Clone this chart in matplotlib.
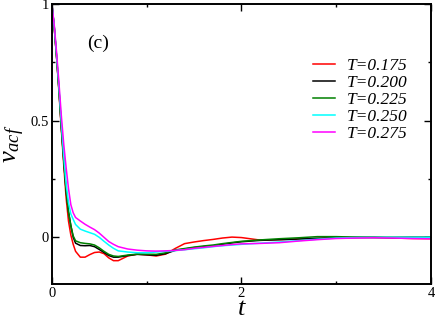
import numpy as np
import matplotlib
matplotlib.use('Agg')
import matplotlib.pyplot as plt
from matplotlib.ticker import MultipleLocator

plt.rcParams['font.family'] = 'Liberation Serif'
plt.rcParams['mathtext.fontset'] = 'custom'
plt.rcParams['mathtext.it'] = 'Liberation Serif:italic'
plt.rcParams['mathtext.rm'] = 'Liberation Serif'

# velocity autocorrelation
t = [0, 0.025, 0.05, 0.075, 0.1, 0.125, 0.15, 0.175, 0.2, 0.225, 0.25, 0.3, 0.35, 0.4, 0.45,
     0.5, 0.55, 0.6, 0.65, 0.7, 0.8, 0.9, 1.0, 1.1, 1.2, 1.3, 1.4, 1.5, 1.6, 1.7, 1.8, 1.9,
     2.0, 2.2, 2.4, 2.6, 2.8, 3.0, 3.2, 3.4, 3.6, 3.8, 4.0]

vacf_175 = [1, 0.9, 0.77, 0.62, 0.46, 0.31, 0.17, 0.07, 0.01, -0.03, -0.06, -0.085, -0.085, -0.074, -0.065,
            -0.063, -0.07, -0.088, -0.1, -0.1, -0.08, -0.072, -0.075, -0.08, -0.072, -0.048, -0.027, -0.02, -0.014, -0.009, -0.003, 0.001,
            -0.001, -0.012, -0.01, -0.008, -0.005, -0.002, -0.002, 0.0, -0.003, -0.005, -0.006]
vacf_200 = [1, 0.9, 0.77, 0.63, 0.47, 0.33, 0.2, 0.11, 0.05, 0.0, -0.025, -0.035, -0.036, -0.035, -0.04,
            -0.052, -0.065, -0.078, -0.085, -0.085, -0.078, -0.073, -0.075, -0.077, -0.07, -0.056, -0.05, -0.044, -0.04, -0.037, -0.03, -0.024,
            -0.019, -0.013, -0.01, -0.007, -0.004, -0.002, 0.0, 0.0, -0.001, 0.0, 0.0]
vacf_225 = [1, 0.9, 0.77, 0.63, 0.47, 0.33, 0.2, 0.11, 0.05, 0.006, -0.015, -0.023, -0.026, -0.028, -0.033,
            -0.045, -0.06, -0.073, -0.08, -0.082, -0.076, -0.072, -0.072, -0.073, -0.066, -0.054, -0.048, -0.042, -0.037, -0.033, -0.027, -0.022,
            -0.017, -0.011, -0.006, -0.002, 0.003, 0.003, 0.001, -0.001, 0.0, 0.0, 0.0]
vacf_250 = [1, 0.905, 0.78, 0.64, 0.49, 0.35, 0.23, 0.15, 0.10, 0.077, 0.055, 0.035, 0.027, 0.02, 0.013,
            0.0, -0.017, -0.033, -0.047, -0.058, -0.063, -0.066, -0.066, -0.063, -0.06, -0.057, -0.053, -0.049, -0.045, -0.04, -0.036, -0.033,
            -0.03, -0.025, -0.02, -0.014, -0.008, -0.003, -0.001, 0.0, 0.0, 0.0, 0.0]
vacf_275 = [1, 0.91, 0.79, 0.66, 0.52, 0.40, 0.30, 0.21, 0.14, 0.105, 0.085, 0.07, 0.056, 0.044, 0.033,
            0.018, 0.0, -0.018, -0.03, -0.04, -0.05, -0.055, -0.058, -0.059, -0.058, -0.056, -0.053, -0.047, -0.043, -0.039, -0.035, -0.031,
            -0.028, -0.026, -0.023, -0.016, -0.01, -0.005, -0.003, -0.002, -0.003, -0.005, -0.006]

series = [vacf_175, vacf_200, vacf_225, vacf_250, vacf_275]
labels = ['T=0.175', 'T=0.200', 'T=0.225', 'T=0.250', 'T=0.275']
colors = ['red', 'black', 'green', 'cyan', 'magenta']

fig = plt.figure(figsize=(4.36, 3.2), dpi=100)
ax = fig.add_axes([0.119, 0.1125, 0.8695, 0.875])

for y, lab, c in zip(series, labels, colors):
    ax.plot(t, y, color=c, lw=1.1, label=lab)

ax.set_xlim(0, 4)
ax.set_ylim(-0.2, 1)
ax.xaxis.set_minor_locator(MultipleLocator(1))
ax.yaxis.set_minor_locator(MultipleLocator(0.25))
ax.set_xticks([0, 2, 4])
ax.set_xticklabels(['0', '2', '4'])
ax.set_yticks([0, 0.5, 1])
ax.set_yticklabels(['0', '0.5', '1'])
ax.tick_params(which='both', direction='in', top=True, right=True, labelsize=10.5, width=1.0)
ax.tick_params(which='major', length=5, pad=2)
ax.tick_params(which='minor', length=2.5)
for s in ax.spines.values():
    s.set_linewidth(1.4)

ax.set_xlabel('t', fontsize=19, style='italic', labelpad=-1)
ax.set_ylabel(r'$v_{acf}$', fontsize=19, labelpad=3)
ax.text(0.123, 0.86, '(c)', transform=ax.transAxes, fontsize=14, ha='center', va='center')

leg = ax.legend(loc='upper left', bbox_to_anchor=(0.665, 0.84), frameon=False,
                prop={'family': 'Liberation Serif', 'style': 'italic', 'size': 12.5},
                handlelength=1.3, handletextpad=0.65, labelspacing=0.05, borderpad=0)

fig.savefig('out.png', dpi=100)
